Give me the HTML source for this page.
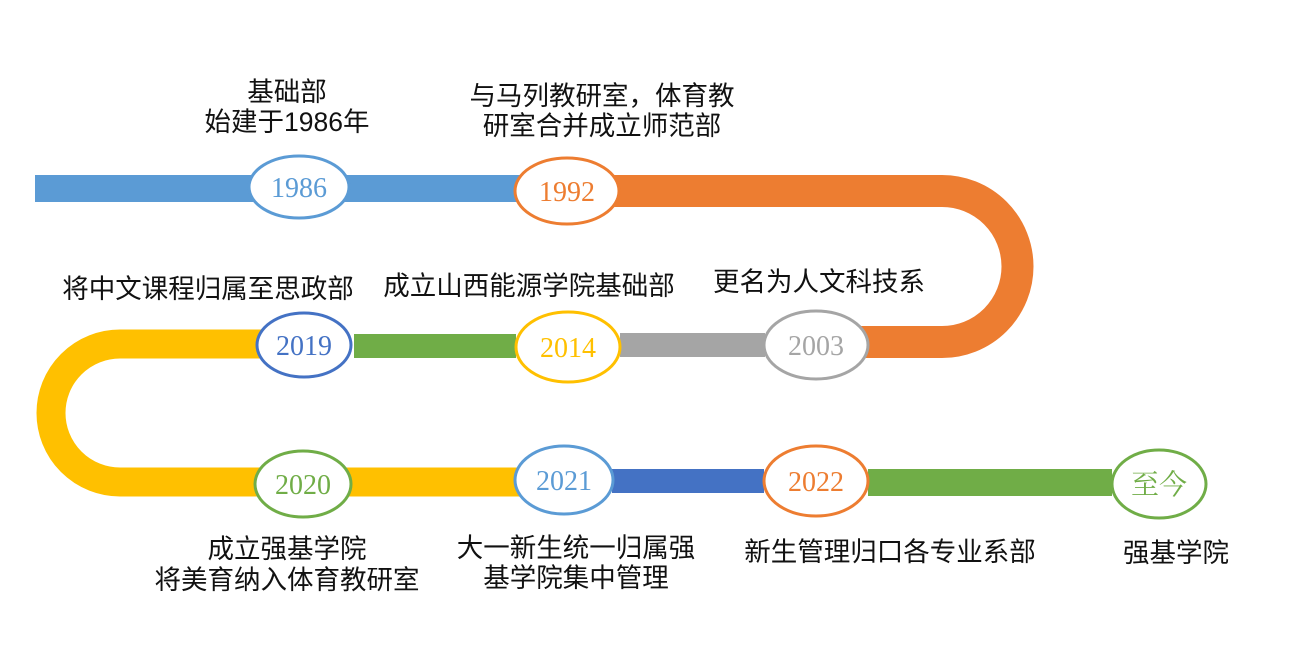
<!DOCTYPE html>
<html><head><meta charset="utf-8"><style>
html,body{margin:0;padding:0;background:#fff;}
svg{display:block;}
.l{font-family:"Liberation Sans","Noto Sans CJK SC",sans-serif;font-size:26.5px;fill:#111;text-anchor:middle;}
.y{font-family:"Liberation Serif","Noto Serif CJK SC",serif;font-size:28px;text-anchor:middle;}
</style></head><body>
<svg width="1290" height="666" viewBox="0 0 1290 666" xmlns="http://www.w3.org/2000/svg">
<rect x="35" y="175" width="485" height="27" fill="#5B9BD5"/>
<path d="M567 191 H942 A75.5 75.5 0 0 1 942 342 H816" fill="none" stroke="#ED7D31" stroke-width="32"/>
<rect x="620" y="333" width="145" height="24" fill="#A5A5A5"/>
<rect x="354" y="334" width="162" height="24" fill="#70AD47"/>
<path d="M304 344 H120 A69 69 0 0 0 120 482 H520" fill="none" stroke="#FFC000" stroke-width="29"/>
<rect x="612" y="469" width="152" height="24" fill="#4472C4"/>
<rect x="868" y="469" width="244" height="27" fill="#70AD47"/>
<g stroke-width="3" fill="#fff">
<ellipse cx="299" cy="187" rx="50" ry="31" stroke="#5B9BD5"/>
<ellipse cx="567" cy="191" rx="52" ry="33" stroke="#ED7D31"/>
<ellipse cx="816" cy="345" rx="52" ry="34" stroke="#A5A5A5"/>
<ellipse cx="568" cy="347" rx="52" ry="35" stroke="#FFC000"/>
<ellipse cx="304" cy="345" rx="47" ry="32" stroke="#4472C4"/>
<ellipse cx="303" cy="484" rx="48" ry="33" stroke="#70AD47"/>
<ellipse cx="564" cy="480" rx="49" ry="34" stroke="#5B9BD5"/>
<ellipse cx="816" cy="481" rx="52" ry="35" stroke="#ED7D31"/>
<ellipse cx="1159" cy="484" rx="47" ry="34" stroke="#70AD47"/>
</g>
<text class="y" x="299" y="197" fill="#5B9BD5">1986</text>
<text class="y" x="567" y="201" fill="#ED7D31">1992</text>
<text class="y" x="816" y="355" fill="#A5A5A5">2003</text>
<text class="y" x="568" y="357" fill="#FFC000">2014</text>
<text class="y" x="304" y="355" fill="#4472C4">2019</text>
<text class="y" x="303" y="494" fill="#70AD47">2020</text>
<text class="y" x="564" y="490" fill="#5B9BD5">2021</text>
<text class="y" x="816" y="491" fill="#ED7D31">2022</text>
<text class="y" x="1159" y="494" fill="#70AD47">至今</text>
<text class="l" x="287" y="101">基础部</text>
<text class="l" x="287" y="131">始建于1986年</text>
<text class="l" x="602" y="105">与马列教研室，体育教</text>
<text class="l" x="602" y="135">研室合并成立师范部</text>
<text class="l" x="208" y="298">将中文课程归属至思政部</text>
<text class="l" x="529" y="295">成立山西能源学院基础部</text>
<text class="l" x="819" y="291">更名为人文科技系</text>
<text class="l" x="287" y="558">成立强基学院</text>
<text class="l" x="287" y="589">将美育纳入体育教研室</text>
<text class="l" x="576" y="557">大一新生统一归属强</text>
<text class="l" x="576" y="587">基学院集中管理</text>
<text class="l" x="890" y="561">新生管理归口各专业系部</text>
<text class="l" x="1176" y="562">强基学院</text>
</svg>
</body></html>
